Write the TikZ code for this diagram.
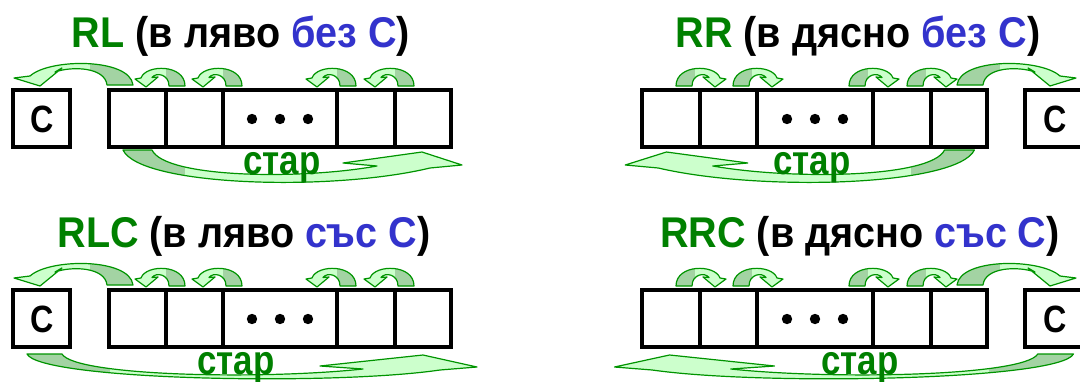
\documentclass[tikz,border=0pt]{standalone}
\usepackage{fontspec}
\setmainfont{Liberation Sans}
\newfontfamily\narrowfont[FakeStretch=0.92]{Liberation Sans}
\newfontfamily\condfont[FakeStretch=0.85]{Liberation Sans}
\definecolor{tgreen}{HTML}{008000}
\definecolor{tblue}{HTML}{3333CC}
\definecolor{agreen}{HTML}{009400}
\definecolor{alight}{HTML}{CCFFCC}
\definecolor{adark}{HTML}{A3D3A3}
\tikzset{
  cellbox/.style={draw=black, line width=4pt},
  arr/.style={draw=agreen, line width=1.2pt, line join=round},
  title/.style={anchor=base, inner sep=0pt, font=\narrowfont\bfseries\fontsize{43}{50}\selectfont},
  oldlbl/.style={anchor=base, inner sep=0pt, text=tgreen, font=\condfont\bfseries\fontsize{41}{48}\selectfont},
  clbl/.style={inner sep=0pt, font=\condfont\bfseries\fontsize{38}{44}\selectfont},
  dot/.style={fill=black}
}
\newcommand\ShapedArrow[2]{%
  \fill[alight] #1;
  \begin{scope}\clip #1; \fill[adark] #2;\end{scope}
  \draw[arr] #1;}
\newcommand\SmallArr{\ShapedArrow{(19,0) -- (3,0) .. controls (3,-12) and (-10,-14) .. (-14,-8.5) -- (-8,-9) -- (-20,1) -- (-31,-7) -- (-25,-8) .. controls (-20,-22) and (19,-22) .. (19,0) -- cycle}{(0,-30) rectangle (25,3)}}
\newcommand\BigArr{\ShapedArrow{(133,0) -- (107,0) .. controls (105,-18) and (72,-19) .. (55,-13) -- (62,-17) -- (40,1) -- (14,-7) -- (30,-9) .. controls (50,-27) and (130,-27) .. (133,0) -- cycle}{(90,-40) rectangle (140,5)}}
\newcommand\OldArr{\ShapedArrow{(123,150) -- (152,150) .. controls (165,178) and (300,180) .. (377,166) -- (343,163) -- (422,152) -- (462,165) -- (430,168) .. controls (330,192) and (140,186) .. (123,150) -- cycle}{(100,140) rectangle (185,200)}}
\newcommand\OldArrC{\ShapedArrow{(27,354) -- (62,354) .. controls (75,376) and (260,380) .. (363,369) -- (320,366) -- (423,355) -- (477,367) -- (440,370) .. controls (330,386) and (40,380) .. (27,354) -- cycle}{(0,340) rectangle (110,390)}}
\begin{document}
\begin{tikzpicture}[x=1pt,y=-1pt]
\useasboundingbox (0,0) rectangle (1080,381);
% ---------- left panels ----------
\foreach \yy/\nm in {0/a,200/b}{
  \begin{scope}[shift={(0,\yy)}]
    \draw[cellbox] (13,90) rectangle (70,147);
    \node[clbl] (c\nm) at (42,119) {С};
    \draw[cellbox] (109,90) rectangle (451,147);
    \foreach \d in {166,223,337,395} \draw[cellbox] (\d,90) -- (\d,147);
    \foreach \d in {252,280,308} \fill[dot] (\d,119) circle (5.2);
    \foreach \d in {166,223,337,395} {\begin{scope}[shift={(\d,86)}]\SmallArr\end{scope}}
    \begin{scope}[shift={(0,85)}]\BigArr\end{scope}
  \end{scope}
}
% ---------- right panels ----------
\foreach \yy/\nm in {0/a,200/b}{
  \begin{scope}[shift={(0,\yy)}]
    \draw[cellbox] (1025,90) rectangle (1085,147);
    \node[clbl] (d\nm) at (1055,119) {С};
    \draw[cellbox] (642,90) rectangle (987,147);
    \foreach \d in {700,757,873,931} \draw[cellbox] (\d,90) -- (\d,147);
    \foreach \d in {787,815,843} \fill[dot] (\d,119) circle (5.2);
    \foreach \d in {700,757,873,931} {\begin{scope}[shift={(\d-5,86)}, xscale=-1]\SmallArr\end{scope}}
    \begin{scope}[shift={(1090,85)}, xscale=-1]\BigArr\end{scope}
  \end{scope}
}
% ---------- "стар" arrows ----------
\OldArr
\begin{scope}[shift={(1101.1,0)}, xscale=-1.03]\OldArr\end{scope}
\OldArrC
\begin{scope}[shift={(1101,0)}, xscale=-1.02]\OldArrC\end{scope}
\node[oldlbl] (s1) at (282,174) {стар};
\node[oldlbl] (s2) at (812,174) {стар};
\node[oldlbl] (s3) at (236,374) {стар};
\node[oldlbl] (s4) at (860,374) {стар};
% ---------- titles ----------
\node[title] (t1) at (241,47) {\textcolor{tgreen}{RL} (в ляво \textcolor{tblue}{без С})};
\node[title] (t2) at (858,47) {\textcolor{tgreen}{RR} (в дясно \textcolor{tblue}{без С})};
\node[title] (t3) at (244,247) {\textcolor{tgreen}{RLC} (в ляво \textcolor{tblue}{със С})};
\node[title] (t4) at (860,247) {\textcolor{tgreen}{RRC} (в дясно \textcolor{tblue}{със С})};
\end{tikzpicture}
\end{document}
